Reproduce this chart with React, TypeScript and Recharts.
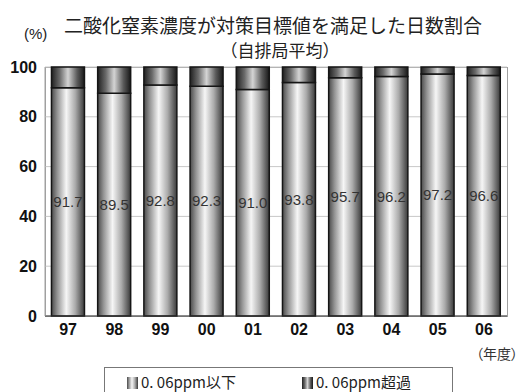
import { Bar, BarChart, CartesianGrid, LabelList, XAxis, YAxis } from "recharts";

// 年度
const years = ["97", "98", "99", "00", "01", "02", "03", "04", "05", "06"];
// 0.06ppm以下の日数割合 (%)
const belowRates = [91.7, 89.5, 92.8, 92.3, 91.0, 93.8, 95.7, 96.2, 97.2, 96.6];
// 0.06ppm超過の日数割合 (%)
const overRates = [8.3, 10.5, 7.2, 7.7, 9.0, 6.2, 4.3, 3.8, 2.8, 3.4];
const yTicks = [0, 20, 40, 60, 80, 100];

const data = years.map((year, i) => ({
  year,
  below: belowRates[i],
  over: overRates[i],
}));

const jpFont = '"Noto Sans CJK JP", sans-serif';
const numFont = '"Liberation Sans", Arial, sans-serif';

const lightBar =
  "linear-gradient(to right, #4a4a4a 0%, #959595 18%, #f6f6f6 45%, #ababab 72%, #3a3a3a 100%)";
const darkBar =
  "linear-gradient(to right, #202020 0%, #6a6a6a 25%, #d4d4d4 50%, #5a5a5a 78%, #181818 100%)";

const LegendIcon = ({ bg }: { bg: string }) => (
  <span
    style={{
      display: "inline-block",
      width: 11,
      height: 12,
      background: bg,
      marginRight: 3,
      verticalAlign: "-1px",
    }}
  />
);

const NO2Chart = () => {
  return (
    <div
      style={{
        position: "absolute",
        left: 0,
        top: 0,
        width: 519,
        height: 392,
        background: "#fff",
        overflow: "hidden",
        color: "#222",
        whiteSpace: "nowrap",
      }}
    >
      {/* plot frame */}
      <div
        style={{
          position: "absolute",
          left: 45,
          top: 67,
          width: 463,
          height: 250,
          border: "1px solid #a0a0a0",
          boxSizing: "border-box",
        }}
      />
      <div style={{ position: "absolute", left: 0, top: 0 }}>
        <BarChart
          width={519}
          height={392}
          data={data}
          margin={{ top: 67, right: 12, bottom: 46, left: 5 }}
          barCategoryGap="14%"
        >
          <defs>
            <linearGradient id="gradBelow" x1="0" y1="0" x2="1" y2="0">
              <stop offset="0%" stopColor="#4a4a4a" />
              <stop offset="18%" stopColor="#959595" />
              <stop offset="45%" stopColor="#f6f6f6" />
              <stop offset="72%" stopColor="#ababab" />
              <stop offset="100%" stopColor="#3a3a3a" />
            </linearGradient>
            <linearGradient id="gradOver" x1="0" y1="0" x2="1" y2="0">
              <stop offset="0%" stopColor="#202020" />
              <stop offset="25%" stopColor="#6a6a6a" />
              <stop offset="50%" stopColor="#d4d4d4" />
              <stop offset="78%" stopColor="#5a5a5a" />
              <stop offset="100%" stopColor="#181818" />
            </linearGradient>
          </defs>
          <CartesianGrid vertical={false} stroke="#c8c8c8" />
          <XAxis
            dataKey="year"
            height={30}
            tickLine={false}
            axisLine={{ stroke: "#333" }}
            tickSize={6}
            tickMargin={2}
            tick={{ fill: "#111", fontSize: 16, fontWeight: 700, fontFamily: numFont }}
          />
          <YAxis
            width={40}
            domain={[0, 100]}
            ticks={yTicks}
            tickLine={false}
            axisLine={{ stroke: "#a0a0a0" }}
            tickSize={6}
            tickMargin={2}
            tick={{ fill: "#111", fontSize: 16, fontWeight: 700, fontFamily: numFont }}
          />
          <Bar
            dataKey="below"
            stackId="a"
            fill="url(#gradBelow)"
            stroke="#151515"
            strokeWidth={1.5}
            isAnimationActive={false}
          >
            <LabelList
              dataKey="below"
              position="center"
              formatter={(v: any) => Number(v).toFixed(1)}
              style={{ fill: "#333", fontSize: 15, fontFamily: numFont }}
            />
          </Bar>
          <Bar
            dataKey="over"
            stackId="a"
            fill="url(#gradOver)"
            stroke="#151515"
            strokeWidth={1.5}
            isAnimationActive={false}
          />
        </BarChart>
      </div>

      <div
        style={{
          position: "absolute",
          left: 0,
          width: 546,
          top: 12,
          textAlign: "center",
          fontFamily: jpFont,
          fontSize: 19,
          lineHeight: "26px",
        }}
      >
        二酸化窒素濃度が対策目標値を満足した日数割合
      </div>
      <div
        style={{
          position: "absolute",
          left: 0,
          width: 560,
          top: 38,
          textAlign: "center",
          fontFamily: jpFont,
          fontSize: 17,
          lineHeight: "24px",
        }}
      >
        （自排局平均）
      </div>
      <div
        style={{
          position: "absolute",
          left: 24,
          top: 25,
          fontFamily: numFont,
          fontSize: 15,
          lineHeight: "18px",
        }}
      >
        (%)
      </div>
      <div
        style={{
          position: "absolute",
          left: 476,
          top: 343,
          fontFamily: jpFont,
          fontSize: 14,
          lineHeight: "20px",
          color: "#333",
          fontFeatureSettings: '"palt"',
        }}
      >
        （年度）
      </div>

      <div
        style={{
          position: "absolute",
          left: 104,
          top: 367,
          width: 349,
          height: 40,
          border: "1px solid #777",
          boxSizing: "border-box",
          fontFamily: jpFont,
          fontSize: 15,
          lineHeight: "24px",
          color: "#222",
        }}
      >
        <span style={{ position: "absolute", left: 22, top: 2 }}>
          <LegendIcon bg={lightBar} />
          0. 06ppm以下
        </span>
        <span style={{ position: "absolute", left: 197, top: 2 }}>
          <LegendIcon bg={darkBar} />
          0. 06ppm超過
        </span>
      </div>
    </div>
  );
};

export default function App() {
  return <NO2Chart />;
}
